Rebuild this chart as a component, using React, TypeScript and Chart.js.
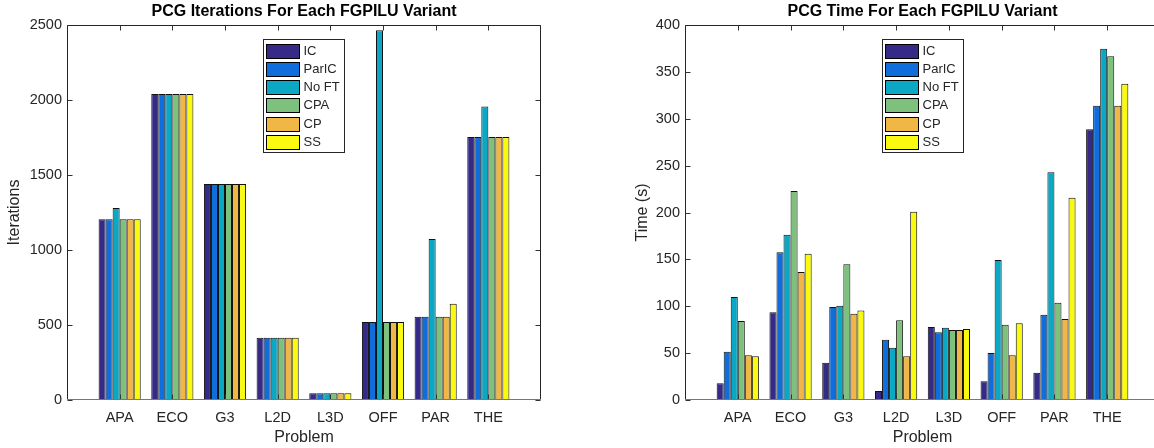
import React, { useEffect, useRef } from "react";
import { Chart, registerables } from "chart.js";

Chart.register(...registerables);

const FONT = '"Liberation Sans", Arial, Helvetica, sans-serif';

const categories = ["APA", "ECO", "G3", "L2D", "L3D", "OFF", "PAR", "THE"];
const seriesNames = ["IC", "ParIC", "No FT", "CPA", "CP", "SS"];
const seriesColors = ["#352A87", "#0F6EDC", "#0AA8C4", "#7DC17C", "#F0B646", "#F9FA0F"];

// PCG iterations
const iterIC = [1205, 2040, 1440, 415, 45, 520, 555, 1753];
const iterParIC = [1205, 2040, 1440, 415, 45, 520, 555, 1753];
const iterNoFT = [1280, 2040, 1440, 415, 45, 2465, 1073, 1956];
const iterCPA = [1205, 2040, 1440, 415, 45, 520, 555, 1753];
const iterCP = [1205, 2040, 1440, 415, 45, 520, 555, 1753];
const iterSS = [1205, 2040, 1440, 415, 45, 520, 642, 1753];

// PCG time (s)
const timeIC = [17.8, 93.5, 39.8, 9.6, 77.9, 19.9, 29.1, 288.7];
const timeParIC = [51.5, 157.5, 99.2, 64.4, 72.2, 50.1, 91, 314];
const timeNoFT = [109.9, 176.4, 100.6, 55.8, 77.1, 149.3, 242.9, 374.8];
const timeCPA = [84.3, 223, 144.7, 85, 74.7, 80.4, 103.8, 366.6];
const timeCP = [47.7, 136.5, 92, 46.6, 74.7, 47.7, 86.4, 314];
const timeSS = [46.6, 156, 95.6, 200.9, 75.7, 81.8, 215.8, 337.4];

const iterTicks = [0, 500, 1000, 1500, 2000, 2500];
const timeTicks = [0, 50, 100, 150, 200, 250, 300, 350, 400];

const iterSeries = [iterIC, iterParIC, iterNoFT, iterCPA, iterCP, iterSS];
const timeSeries = [timeIC, timeParIC, timeNoFT, timeCPA, timeCP, timeSS];

const TEXT = "#262626";

const framePlugin = {
  id: "frame",
  afterDatasetsDraw(chart: any, _args: any, opts: any) {
    const { ctx, chartArea: a, scales } = chart;
    const xs = scales.x;
    const ys = scales.y;
    const L = Math.round(a.left) + 0.5;
    const R = Math.round(a.right) - 0.5;
    const T = Math.round(a.top) + 0.5;
    const B = Math.round(a.bottom) - 0.5;
    ctx.save();
    ctx.lineWidth = 1;
    ctx.strokeStyle = "#333333";
    ctx.beginPath();
    ys.ticks.forEach((t: any) => {
      const py = Math.round(ys.getPixelForValue(t.value)) + 0.5;
      ctx.moveTo(L, py);
      ctx.lineTo(L + 5, py);
      ctx.moveTo(R, py);
      ctx.lineTo(R - 5, py);
    });
    xs.ticks.forEach((t: any) => {
      const px = Math.round(xs.getPixelForValue(t.value)) + 0.5;
      ctx.moveTo(px, B);
      ctx.lineTo(px, B - 5);
      ctx.moveTo(px, T);
      ctx.lineTo(px, T + 5);
    });
    ctx.stroke();
    ctx.strokeStyle = "#262626";
    ctx.beginPath();
    ctx.moveTo(L, B);
    ctx.lineTo(L, T);
    ctx.lineTo(R, T);
    ctx.lineTo(R, B);
    ctx.stroke();
    ctx.strokeStyle = "#777777";
    ctx.beginPath();
    ctx.moveTo(L, B);
    ctx.lineTo(R, B);
    ctx.stroke();

    // title
    ctx.fillStyle = "#000000";
    ctx.font = `bold 16px ${FONT}`;
    ctx.textAlign = "center";
    ctx.textBaseline = "middle";
    ctx.fillText(opts.title, (a.left + a.right) / 2, opts.titleY);

    // legend
    ctx.font = `13px ${FONT}`;
    const maxW = Math.max(...seriesNames.map((n) => ctx.measureText(n).width));
    const w = 3 + 33 + 4 + maxW + 5;
    const rowH = 18.2;
    const h = 113;
    const x0 = Math.round((a.left + a.right) / 2 - w / 2) + 0.5;
    const y0 = Math.round(a.top + 14) + 0.5;
    ctx.fillStyle = "#ffffff";
    ctx.fillRect(x0, y0, w, h);
    ctx.strokeStyle = "#262626";
    ctx.strokeRect(x0, y0, Math.round(w), h);
    seriesNames.forEach((name, i) => {
      const cy = y0 + 11.3 + i * rowH;
      const sy = Math.round(cy - 7) + 0.5;
      ctx.fillStyle = seriesColors[i];
      ctx.fillRect(x0 + 3, sy, 33, 14);
      ctx.strokeStyle = "#000000";
      ctx.strokeRect(x0 + 3, sy, 33, 14);
      ctx.fillStyle = TEXT;
      ctx.textAlign = "left";
      ctx.textBaseline = "middle";
      ctx.fillText(name, x0 + 40, cy + 0.5);
    });
    ctx.restore();
  },
};

type PanelProps = {
  left: number;
  width: number;
  padRight: number;
  yWidth: number;
  yTitle: string;
  yTitlePad: number;
  yMax: number;
  yTicks: number[];
  series: number[][];
  title: string;
};

function BarPanel(p: PanelProps) {
  const ref = useRef<HTMLCanvasElement>(null);
  useEffect(() => {
    if (!ref.current) return;
    const datasets = p.series.map((vals, si) => ({
      label: seriesNames[si],
      data: categories.map((_, i) => ({ x: i + 1, y: vals[i] })),
      backgroundColor: seriesColors[si],
      borderColor: "#111111",
      borderWidth: 1,
      categoryPercentage: 0.8,
      barPercentage: 1.0,
    }));
    const chart = new Chart(ref.current, {
      type: "bar",
      data: { datasets } as any,
      plugins: [framePlugin as any],
      options: {
        animation: false,
        responsive: false,
        maintainAspectRatio: false,
        layout: { padding: { left: 0, right: p.padRight, top: 25, bottom: 0 } },
        plugins: {
          legend: { display: false },
          tooltip: { enabled: false },
          title: { display: false },
          frame: { title: p.title, titleY: 12 },
        } as any,
        scales: {
          x: {
            type: "linear",
            min: 0,
            max: 9,
            offset: false,
            afterBuildTicks: (s: any) => {
              s.ticks = categories.map((_, i) => ({ value: i + 1 }));
            },
            afterFit: (s: any) => {
              s.height = 48;
            },
            grid: { display: false, drawTicks: false },
            border: { display: false },
            ticks: {
              autoSkip: false,
              maxRotation: 0,
              padding: 9,
              color: TEXT,
              font: { size: 14.5, family: FONT },
              callback: (v: any) => categories[Number(v) - 1] ?? "",
            },
            title: {
              display: true,
              text: "Problem",
              color: TEXT,
              font: { size: 16, family: FONT },
              padding: { top: 0, bottom: 0.4 },
            },
          },
          y: {
            min: 0,
            max: p.yMax,
            afterBuildTicks: (s: any) => {
              s.ticks = p.yTicks.map((v) => ({ value: v }));
            },
            afterFit: (s: any) => {
              s.width = p.yWidth;
            },
            grid: { display: false, drawTicks: false },
            border: { display: false },
            ticks: {
              padding: 5,
              color: TEXT,
              font: { size: 14.5, family: FONT },
              callback: (v: any) => String(v),
            },
            title: {
              display: true,
              text: p.yTitle,
              color: TEXT,
              font: { size: 16, family: FONT },
              padding: { top: p.yTitlePad, bottom: 0 },
            },
          },
        },
      } as any,
    });
    return () => chart.destroy();
  }, []);
  return (
    <canvas
      ref={ref}
      width={p.width}
      height={448}
      style={{ position: "absolute", left: p.left, top: 0, width: p.width, height: 448 }}
    />
  );
}

export default function App() {
  return (
    <div
      style={{
        position: "fixed",
        left: 0,
        top: 0,
        width: 1154,
        height: 448,
        overflow: "hidden",
        background: "#ffffff",
      }}
    >
      <BarPanel
        left={0}
        width={577}
        padRight={36}
        yWidth={67}
        yTitle="Iterations"
        yTitlePad={5.4}
        yMax={2500}
        yTicks={iterTicks}
        series={iterSeries}
        title="PCG Iterations For Each FGPILU Variant"
      />
      <BarPanel
        left={625}
        width={560}
        padRight={25}
        yWidth={60}
        yTitle="Time (s)"
        yTitlePad={8.4}
        yMax={400}
        yTicks={timeTicks}
        series={timeSeries}
        title="PCG Time For Each FGPILU Variant"
      />
    </div>
  );
}
